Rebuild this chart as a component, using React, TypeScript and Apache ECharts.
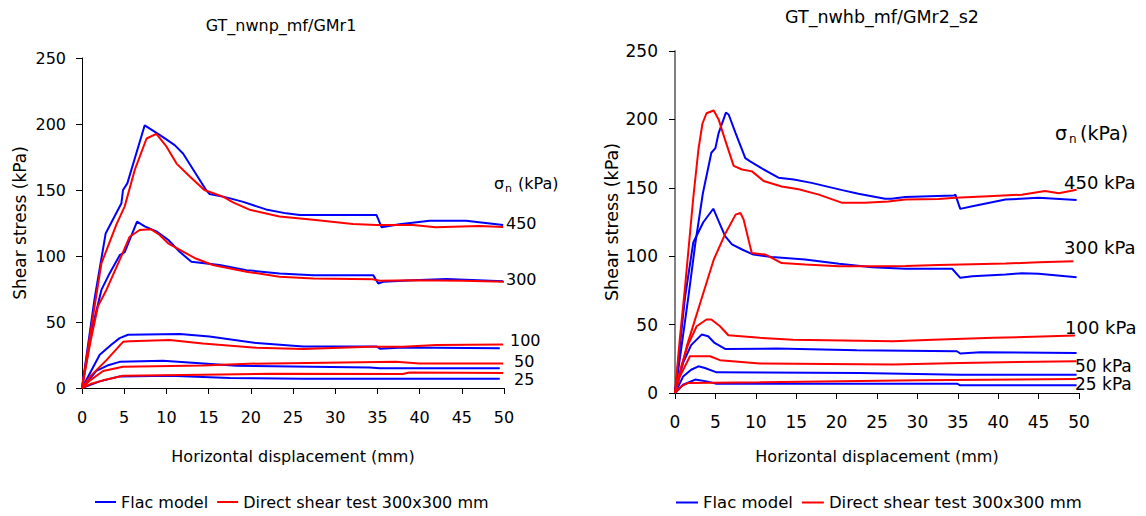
import React, { useEffect, useRef } from "react";
import * as echarts from "echarts";

const FONT = "DejaVu Sans, Liberation Sans, Arial, sans-serif";
const BLUE = "#0000ff";
const RED = "#ff0000";

const leftTitle = "GT_nwnp_mf/GMr1";
const rightTitle = "GT_nwhb_mf/GMr2_s2";
const xName = "Horizontal displacement (mm)";
const yName = "Shear stress (kPa)";
const flacName = "Flac model";
const testName = "Direct shear test 300x300 mm";
const leftCurveLabels = ["450", "300", "100", "50", "25"];
const rightCurveLabels = ["450 kPa", "300 kPa", "100 kPa", "50 kPa", "25 kPa"];

// ---- Left chart (GT_nwnp_mf/GMr1) ----
const L450_flac = [[0, 0], [1.5, 68], [2.8, 117], [4.67, 140], [4.86, 150], [5.37, 155], [7.43, 199], [8.22, 195.8], [9.6, 190], [10.98, 184], [11.97, 177.6], [14.7, 150], [15.1, 147], [17.1, 144.4], [19.1, 141], [21.8, 135.3], [24.2, 132.3], [25.8, 131], [34.9, 131], [35.5, 121.7], [37.6, 124], [41.2, 126.7], [45.5, 126.7], [49.9, 123.4]];
const L450_test = [[0, 0], [1.2, 50], [2.3, 94.5], [2.7, 101], [4.07, 123.8], [5.06, 137.6], [6.24, 165], [7.65, 189], [8.81, 192.5], [10, 183], [11.2, 170], [12.8, 160], [14.5, 150], [16.7, 145], [17.9, 140.6], [19.9, 135], [23.4, 129.9], [27.4, 127.4], [32.1, 124.3], [34.9, 123.5], [39.2, 123.5], [41.9, 121.7], [47.1, 122.7], [49.9, 122]];
const L300_flac = [[0, 0], [1.2, 45], [2.3, 74.3], [3.28, 87], [4.47, 100.6], [5.06, 103], [6.52, 126], [7.43, 122.4], [8.81, 118.7], [10.2, 112.3], [11.6, 103], [12.96, 95.7], [16.3, 93.2], [19.5, 89.3], [23.4, 86.7], [27.4, 85.5], [34.5, 85.5], [35.1, 79.2], [35.7, 80.4], [39.2, 81.7], [43.2, 82.5], [49.9, 80.8]];
const L300_test = [[0, 0], [1, 35], [1.9, 62], [2.89, 74.3], [4.47, 97], [5.65, 114.6], [6.83, 119.7], [8.2, 120.2], [9.2, 115.9], [10.2, 109.6], [11.97, 103.3], [13.4, 98.3], [15.5, 93.2], [19.5, 88.1], [23.4, 84.3], [27.4, 83], [34.5, 82.3], [35.3, 81.2], [39.2, 81.7], [45.2, 81.2], [50, 80.5]];
const L100_flac = [[0, 0], [1, 12], [2.1, 25.2], [3.5, 33], [4.46, 37.8], [5.45, 40.3], [11.6, 41], [15.1, 39], [20.7, 34], [26.2, 31.5], [34.9, 31.5], [35.3, 29.7], [38, 30.7], [49.5, 30.2]];
const L100_test = [[0, 0], [1, 9], [2.9, 21.1], [4.86, 35], [5.65, 35.5], [10.4, 36.3], [14.3, 33.8], [20.7, 30.5], [26.2, 29.5], [34.1, 31.3], [38, 31.3], [42, 32.5], [49.9, 33]];
const L50_flac = [[0, 0], [1.7, 12.9], [3, 17], [4.46, 19.8], [9.6, 20.6], [18.3, 16.9], [34.1, 15.6], [35.3, 14.9], [49.5, 14.9]];
const L50_test = [[0, 0], [1, 6], [2.5, 12.9], [4.86, 16.1], [14.3, 17.1], [19.8, 18.4], [37.2, 19.9], [40, 18.6], [49.9, 18.6]];
const L25_flac = [[0, 0], [2.1, 5], [4.46, 8.8], [10.4, 9.3], [17.5, 7.6], [26.2, 7.1], [49.5, 7.1]];
const L25_test = [[0, 0], [1, 3], [2.5, 5.8], [4.86, 9.3], [14.3, 10.1], [22.2, 10.8], [38, 10.6], [38.8, 11.8], [49.9, 11.4]];

// ---- Right chart (GT_nwhb_mf/GMr2_s2) ----
const R450_flac = [[0, 0], [0.9, 38], [1.77, 75.3], [2.52, 109.5], [3.45, 146], [4.5, 175.6], [5.0, 179], [5.4, 190], [6.3, 204.9], [6.64, 203.6], [7.5, 190], [8.7, 171.7], [9.3, 169.3], [10.8, 164], [12.8, 157.4], [14.7, 156], [16.9, 153.6], [20.7, 148.3], [22.7, 145.7], [26.0, 142], [26.8, 142], [28.5, 143.3], [34.5, 144.3], [34.7, 145], [35.3, 134.6], [36.8, 136.5], [40.9, 141.4], [45, 142.7], [49.7, 141]];
const R450_test = [[0, 0], [0.6, 40], [1.25, 78], [2.25, 142], [2.9, 178], [3.4, 197], [3.9, 204.5], [4.79, 206.5], [5.4, 200], [6.2, 185], [7.26, 166], [8.3, 163.4], [9.53, 162], [10.97, 155], [13.2, 151], [15.3, 149], [17.8, 145], [20.7, 139], [23.5, 139], [26.4, 140], [28.5, 141.4], [32.6, 141.9], [34.7, 142.7], [38.8, 143.9], [42.9, 145], [45.8, 147.6], [47.5, 146], [49.7, 148.5]];
const R300_flac = [[0, 0], [0.7, 40], [1.24, 70], [2.26, 110], [3.5, 124.8], [4.74, 134.7], [5.4, 125.6], [6.2, 114.7], [7.05, 108.6], [8.3, 104.9], [9.7, 101.2], [12, 99.5], [16.1, 97.6], [20.3, 94.4], [24.4, 92], [28.5, 90.8], [34.3, 90.8], [35.3, 84.2], [36.8, 85.4], [40.9, 86.6], [42.9, 87.6], [45, 87.1], [49.7, 84.7]];
const R300_test = [[0, 0], [1.5, 35], [3.38, 70.7], [4.8, 97.6], [6.27, 117], [7.5, 130.4], [8.1, 131.6], [8.5, 126.7], [9.1, 112], [9.5, 102.3], [11.2, 101.2], [13.2, 95], [16.1, 93.9], [20.3, 92.6], [24.4, 92.6], [28.5, 92.8], [32.6, 93.5], [36.8, 94.2], [40.9, 94.6], [45, 95.6], [49.3, 96.3]];
const R100_flac = [[0, 0], [1, 22], [2, 35], [3.3, 42.7], [4.1, 41.5], [4.9, 36.6], [6.2, 32.2], [12.6, 32.5], [22.5, 31.3], [34.9, 30.5], [35.3, 28.9], [37.8, 29.8], [49.7, 29.3]];
const R100_test = [[0, 0], [0.8, 20], [1.6, 35], [2.68, 48.8], [3.9, 53.7], [4.5, 53.7], [5.57, 48.8], [6.6, 42.2], [10.5, 40.3], [14.6, 39], [27, 37.8], [31.97, 39], [39.4, 40.3], [49.5, 42]];
const R50_flac = [[0, 0], [1, 12], [2, 17], [2.9, 19.5], [3.7, 18.3], [5.15, 15.1], [22.9, 14.6], [35.3, 13.4], [49.7, 13.4]];
const R50_test = [[0, 0], [0.6, 12], [1.85, 26.9], [4.33, 26.9], [5.57, 24], [10.5, 21.5], [27, 20.8], [35.3, 22], [49.7, 23.2]];
const R25_flac = [[0, 0], [1, 6], [2.5, 9.8], [3.9, 8.5], [5.15, 6.8], [34.9, 6.8], [35.3, 5.6], [49.7, 5.6]];
const R25_test = [[0, 0], [0.8, 5], [1.65, 7.4], [10.5, 7.9], [30.3, 9.3], [49.7, 10.2]];

const leftFlac = [L450_flac, L300_flac, L100_flac, L50_flac, L25_flac];
const leftTest = [L450_test, L300_test, L100_test, L50_test, L25_test];
const rightFlac = [R450_flac, R300_flac, R100_flac, R50_flac, R25_flac];
const rightTest = [R450_test, R300_test, R100_test, R50_test, R25_test];

function lineSeries(name: string, data: number[][], color: string, idx: number) {
  return {
    type: "line",
    name,
    data,
    xAxisIndex: idx,
    yAxisIndex: idx,
    showSymbol: false,
    symbol: "none",
    color,
    lineStyle: { color, width: 2 },
    emphasis: { disabled: true },
  };
}

function txt(text: string, x: number, y: number, size: number, align = "left") {
  return {
    type: "text",
    x,
    y,
    silent: true,
    style: { text, fontSize: size, fontFamily: FONT, fill: "#000", align, verticalAlign: "middle" },
  };
}

function xAxisOpt(idx: number, fs: number, margin: number, gap: number) {
  return {
    type: "value",
    gridIndex: idx,
    min: 0,
    max: 50,
    interval: 5,
    name: xName,
    nameLocation: "middle",
    nameGap: gap,
    nameTextStyle: { fontSize: 16, fontFamily: FONT, color: "#000" },
    axisLine: { show: true, onZero: false, lineStyle: { color: "#000", width: 1 } },
    axisTick: { show: true, inside: false, length: 6, lineStyle: { color: "#000" } },
    axisLabel: { fontSize: fs, fontFamily: FONT, color: "#000", margin },
    splitLine: { show: false },
  };
}

function yAxisOpt(idx: number, fs: number, margin: number, gap: number, lineColor: string, lineWidth: number, nameSize: number) {
  return {
    type: "value",
    gridIndex: idx,
    min: 0,
    max: 250,
    interval: 50,
    name: yName,
    nameLocation: "middle",
    nameGap: gap,
    nameTextStyle: { fontSize: nameSize, fontFamily: FONT, color: "#000" },
    axisLine: { show: true, lineStyle: { color: lineColor, width: lineWidth } },
    axisTick: { show: true, inside: false, length: 6, lineStyle: { color: "#000" } },
    axisLabel: { fontSize: fs, fontFamily: FONT, color: "#000", margin },
    splitLine: { show: false },
  };
}

export default function App() {
  const ref = useRef<HTMLDivElement>(null);
  useEffect(() => {
    if (!ref.current) return;
    const chart = echarts.init(ref.current, undefined, { renderer: "svg" });
    const series: any[] = [];
    leftFlac.forEach((d) => series.push(lineSeries(flacName, d, BLUE, 0)));
    leftTest.forEach((d) => series.push(lineSeries(testName, d, RED, 0)));
    rightFlac.forEach((d) => series.push(lineSeries(flacName, d, BLUE, 1)));
    rightTest.forEach((d) => series.push(lineSeries(testName, d, RED, 1)));

    const leftLabelPos = [[506, 223], [506, 279], [510, 340], [514, 361], [514, 379]];
    const rightLabelPos = [[1064, 182], [1064, 247], [1065, 327], [1075, 365.5], [1075, 384]];
    const rightLabelSize = [18, 18, 18, 17, 17];

    const graphic: any[] = [
      txt(leftTitle, 281, 25, 16, "center"),
      txt(rightTitle, 882, 17, 17.5, "center"),
      txt("σ", 494, 183, 16),
      txt("n", 505, 188, 11),
      txt("(kPa)", 518, 183, 16),
      txt("σ", 1055, 133, 19),
      txt("n", 1069, 139, 12),
      txt("(kPa)", 1080, 133, 19),
    ];
    leftCurveLabels.forEach((t, i) => graphic.push(txt(t, leftLabelPos[i][0], leftLabelPos[i][1], 16)));
    rightCurveLabels.forEach((t, i) => graphic.push(txt(t, rightLabelPos[i][0], rightLabelPos[i][1], rightLabelSize[i])));

    chart.setOption({
      animation: false,
      backgroundColor: "#fff",
      grid: [
        { left: 82, top: 58, width: 422, height: 330, containLabel: false },
        { left: 675, top: 51, width: 404, height: 342, containLabel: false },
      ],
      xAxis: [xAxisOpt(0, 16, 21, 60), xAxisOpt(1, 17, 20, 55)],
      yAxis: [
        yAxisOpt(0, 16, 16, 54, "#000", 1, 17),
        yAxisOpt(1, 17, 17, 54, "#808080", 2, 17.5),
      ],
      legend: [
        {
          left: 95,
          top: 494,
          padding: 0,
          itemGap: 9,
          itemWidth: 21,
          itemHeight: 2,
          icon: "rect",
          selectedMode: false,
          textStyle: { fontSize: 16, fontFamily: FONT, color: "#000" },
          data: [flacName, testName],
        },
        {
          left: 676,
          top: 494,
          padding: 0,
          itemGap: 9,
          itemWidth: 22,
          itemHeight: 2,
          icon: "rect",
          selectedMode: false,
          textStyle: { fontSize: 16.5, fontFamily: FONT, color: "#000" },
          data: [flacName, testName],
        },
      ],
      series,
      graphic,
    });
    return () => chart.dispose();
  }, []);
  return (
    <div
      ref={ref}
      style={{ position: "absolute", left: 0, top: 0, width: 1146, height: 516, background: "#fff" }}
    />
  );
}
